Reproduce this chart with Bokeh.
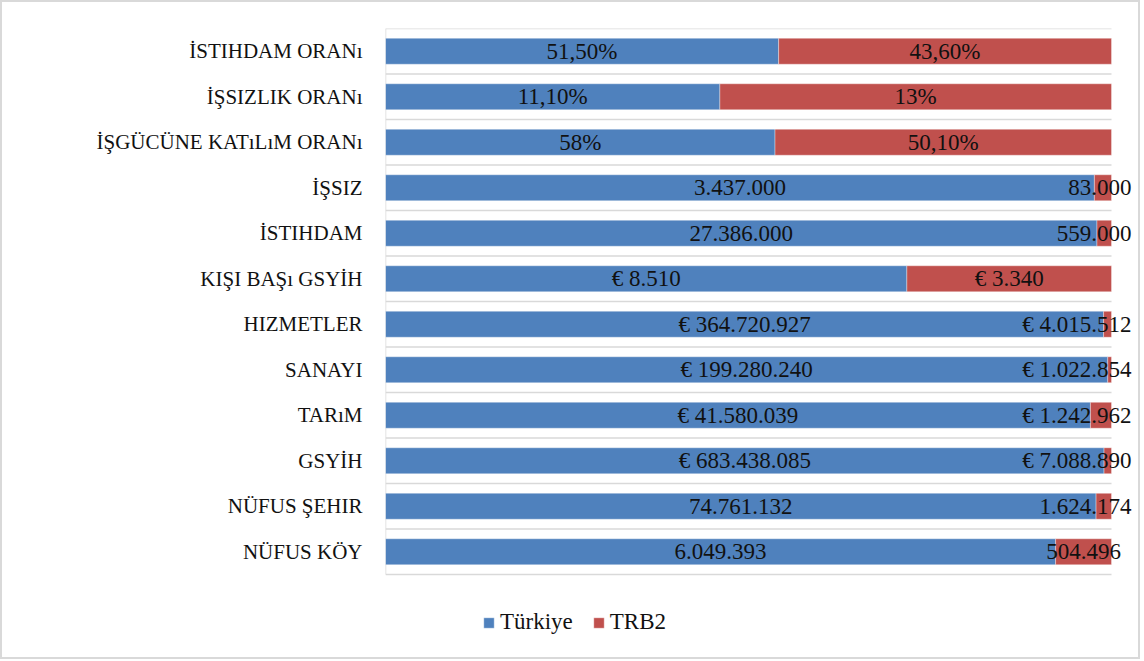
from bokeh.plotting import figure
from bokeh.models import ColumnDataSource, Range1d, FixedTicker, Legend, LegendItem
from bokeh.core.properties import value
from bokeh.embed import file_html
from bokeh.resources import INLINE

# ---- data (top to bottom) ----
categories = ["İSTIHDAM ORANı", "İŞSIZLIK ORANı", "İŞGÜCÜNE KATıLıM ORANı", "İŞSIZ",
              "İSTIHDAM", "KIŞI BAŞı GSYİH", "HIZMETLER", "SANAYI", "TARıM", "GSYİH",
              "NÜFUS ŞEHIR", "NÜFUS KÖY"]
turkiye = [51.5, 11.1, 58, 3437000, 27386000, 8510, 364720927, 199280240, 41580039,
           683438085, 74761132, 6049393]
trb2 = [43.6, 13, 50.1, 83000, 559000, 3340, 4015512, 1022854, 1242962, 7088890,
        1624174, 504496]
turkiye_labels = ["51,50%", "11,10%", "58%", "3.437.000", "27.386.000", "€ 8.510",
                  "€ 364.720.927", "€ 199.280.240", "€ 41.580.039", "€ 683.438.085",
                  "74.761.132", "6.049.393"]
trb2_labels = ["43,60%", "13%", "50,10%", "83.000", "559.000", "€ 3.340",
               "€ 4.015.512", "€ 1.022.854", "€ 1.242.962", "€ 7.088.890",
               "1.624.174", "504.496"]
series_names = ["Türkiye", "TRB2"]

BLUE = "#4F81BD"
RED = "#C0504D"
GRID = "#d9d9d9"
FONT = "Liberation Serif"
TXT = "#111111"
LABEL_PX = 23
PX_PER_UNIT = 726.0     # horizontal pixels of the 0..1 (100 %) bar area
LABEL_LIMIT = 1.0275    # labels are kept inside the chart area (right edge)

n = len(categories)
idx = list(range(n))
share = [t / (t + r) for t, r in zip(turkiye, trb2)]

# approximate advance widths (em) of the serif font, used to keep the
# overflowing labels inside the chart area like the original does
_adv = {".": 0.25, ",": 0.25, " ": 0.25, "%": 0.833, "€": 0.5}


def text_w(s):
    return sum(_adv.get(c, 0.5) for c in s) * LABEL_PX / PX_PER_UNIT


rx = [min((1 + s) / 2, LABEL_LIMIT - text_w(t) / 2) for s, t in zip(share, trb2_labels)]

src = ColumnDataSource(dict(
    y=idx,
    zero=[0.0] * n,
    one=[1.0] * n,
    share=share,
    tx=[s / 2 for s in share],
    rx=rx,
    tl=turkiye_labels,
    rl=trb2_labels,
))

# plot frame extends past the 100% bar area so the overflowing labels and the
# legend are not clipped; the visible "plot area" is drawn with segments
p = figure(width=1140, height=659, output_backend="svg", toolbar_location=None,
           x_range=Range1d(0, 1.0427), y_range=Range1d(13.412, -0.5),
           x_axis_location=None,
           min_border_left=383, min_border_right=0, min_border_top=26,
           min_border_bottom=0)
p.styles = {"border": "2px solid #d9d9d9"}
p.outline_line_color = None
p.background_fill_color = "white"
p.border_fill_color = "white"
for g in p.grid:
    g.visible = False

# category separators and left axis line of the plot area
seps = [i - 0.5 for i in range(n + 1)]
p.segment(x0=[0.0] * len(seps), x1=[1.0] * len(seps), y0=seps, y1=seps,
          line_color=GRID, line_width=1.5)
p.segment(x0=[0.0], x1=[0.0], y0=[-0.5], y1=[n - 0.5], line_color=GRID, line_width=1.5)

r1 = p.hbar(y="y", left="zero", right="share", height=0.57, source=src,
            fill_color=BLUE, line_color="white", line_alpha=0.35, line_width=1)
r2 = p.hbar(y="y", left="share", right="one", height=0.57, source=src,
            fill_color=RED, line_color="white", line_alpha=0.35, line_width=1)

p.text(x="tx", y="y", text="tl", source=src, text_align="center", text_baseline="middle",
       text_font=value(FONT), text_font_size=f"{LABEL_PX}px", text_color=TXT)
p.text(x="rx", y="y", text="rl", source=src, text_align="center", text_baseline="middle",
       text_font=value(FONT), text_font_size=f"{LABEL_PX}px", text_color=TXT)

yax = p.yaxis[0]
yax.ticker = FixedTicker(ticks=idx)
yax.major_label_overrides = {i: c for i, c in enumerate(categories)}
yax.major_label_text_font = FONT
yax.major_label_text_font_size = "21px"
yax.major_label_text_color = TXT
yax.major_tick_line_color = None
yax.minor_tick_line_color = None
yax.axis_line_color = None
yax.major_label_standoff = 17

legend = Legend(items=[LegendItem(label=series_names[0], renderers=[r1]),
                       LegendItem(label=series_names[1], renderers=[r2])],
                orientation="horizontal", location=(97, 26),
                label_text_font=FONT, label_text_font_size="23px",
                label_text_color=TXT,
                glyph_width=13, glyph_height=13, label_standoff=5, spacing=19,
                padding=0, margin=0, border_line_color=None,
                background_fill_alpha=0)
p.add_layout(legend, "center")

open("out.html", "w").write(file_html(p, INLINE))
